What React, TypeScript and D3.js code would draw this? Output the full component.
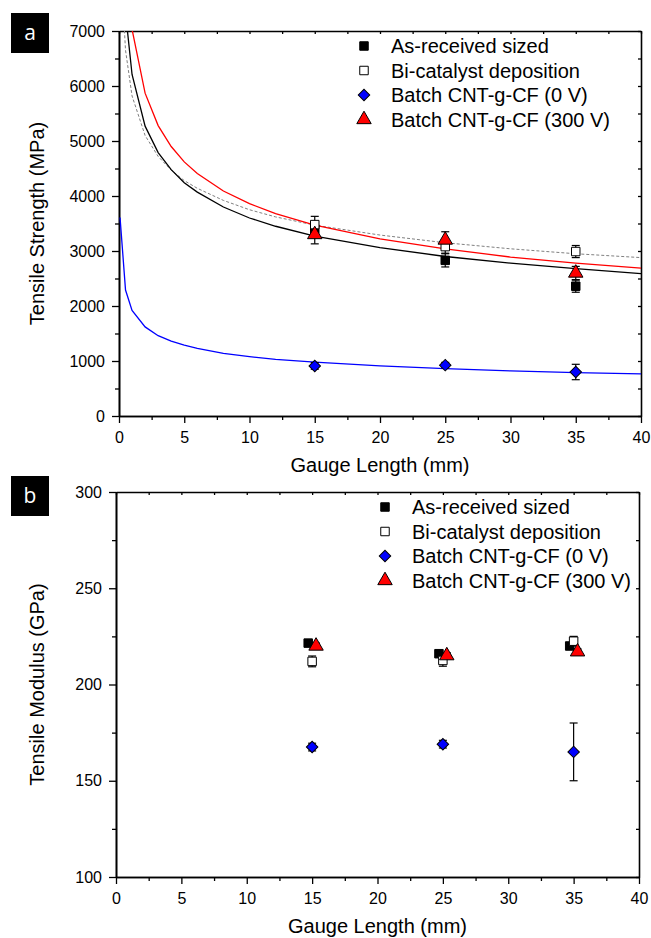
import * as d3 from 'd3';
import React, { useEffect, useRef } from 'react';

const W = 651;
const H = 938;
const FONT = 'Arial, "Liberation Sans", Helvetica, sans-serif';

// gauge lengths tested (mm)
const gaugeLengths = [15, 25, 35];
const xMajor = [0, 5, 10, 15, 20, 25, 30, 35, 40];
const xMinor = [2.5, 7.5, 12.5, 17.5, 22.5, 27.5, 32.5, 37.5];

const seriesNames = [
  'As-received sized',
  'Bi-catalyst deposition',
  'Batch CNT-g-CF (0 V)',
  'Batch CNT-g-CF (300 V)',
];

// panel a: tensile strength (MPa)
const strengthSized = [3400, 2830, 2360];
const strengthSizedErr = [100, 120, 110];
const strengthBiCat = [3480, 3080, 2990];
const strengthBiCatErr = [150, 120, 110];
const strength0V = [910, 925, 800];
const strength0VErr = [60, 50, 140];
const strength300V = [3300, 3200, 2600];
const strength300VErr = [170, 150, 120];

// fitted lines
const fitL = [0.2, 0.5, 1, 2, 3, 4, 5, 6, 8, 10, 12, 15, 20, 25, 30, 35, 40];
const fitSized = [9100, 7330, 6210, 5270, 4790, 4480, 4240, 4070, 3800, 3600, 3450, 3270, 3060, 2900, 2780, 2680, 2590];
const fitBiCat = [7920, 6650, 5820, 5100, 4720, 4470, 4280, 4140, 3920, 3750, 3620, 3470, 3290, 3150, 3040, 2950, 2880];
const fit300V = [10700, 8430, 7030, 5870, 5280, 4900, 4620, 4410, 4090, 3860, 3680, 3470, 3220, 3040, 2890, 2780, 2690];
const fit0VL = [0.08, 0.5, 1, 2, 3, 4, 5, 6, 8, 10, 12, 15, 20, 25, 30, 35, 40];
const fit0V = [3610, 2290, 1920, 1620, 1460, 1360, 1290, 1230, 1140, 1080, 1030, 980, 910, 860, 820, 790, 765];

const strengthMajor = [0, 1000, 2000, 3000, 4000, 5000, 6000, 7000];
const strengthMinor = [500, 1500, 2500, 3500, 4500, 5500, 6500];

// panel b: tensile modulus (GPa), points slightly offset in the original
const modSizedX = [14.7, 24.7, 34.7];
const modSized = [221.5, 216, 220];
const modSizedErr = [1.5, 1.5, 1.5];
const modBiCatX = [15, 25, 35];
const modBiCat = [212, 212.5, 222.5];
const modBiCatErr = [2.8, 3, 2.5];
const mod0VX = [15, 25, 35];
const mod0V = [167.5, 169, 165];
const mod0VErr = [2, 2, 15];
const mod300VX = [15.3, 25.3, 35.3];
const mod300V = [220, 215, 217];
const mod300VErr = [1.5, 1.5, 1.5];

const modMajor = [100, 150, 200, 250, 300];
const modMinor = [125, 175, 225, 275];

const markerStyles = [
  { shape: 'square', fill: '#000000' },
  { shape: 'square', fill: '#ffffff' },
  { shape: 'diamond', fill: '#0000ff' },
  { shape: 'triangle', fill: '#ff0000' },
];

const markerPath = (shape: string) => {
  if (shape === 'triangle') return d3.symbol(d3.symbolTriangle, 90)();
  return d3.symbol(d3.symbolSquare, shape === 'diamond' ? 66 : 72)();
};

const drawMarker = (g: any, shape: string, fill: string, cx: number, cy: number) => {
  g.append('path')
    .attr('d', markerPath(shape))
    .attr('transform', `translate(${cx},${cy})${shape === 'diamond' ? ' rotate(45)' : ''}`)
    .attr('fill', fill)
    .attr('stroke', '#000')
    .attr('stroke-width', 1);
};

const drawPanel = (svg: any, p: any) => {
  const x = d3.scaleLinear().domain([0, 40]).range(p.xRange);
  const y = d3.scaleLinear().domain(p.yDomain).range(p.yRange);
  const [x0, x1] = p.xRange;
  const [yb, yt] = p.yRange;
  const g = svg.append('g');

  const styleAxis = (sel: any) => {
    sel.selectAll('path.domain').attr('stroke-width', 1.6);
    sel.selectAll('.tick line').attr('stroke-width', 1.3);
    sel.selectAll('text').attr('font-size', 16).attr('font-family', FONT).attr('fill', '#000');
  };

  // bottom
  g.append('g').attr('transform', `translate(0,${yb})`)
    .call(d3.axisBottom(x).tickValues(xMinor).tickSize(4).tickSizeOuter(0).tickFormat(() => ''))
    .call(styleAxis);
  g.append('g').attr('transform', `translate(0,${yb})`)
    .call(d3.axisBottom(x).tickValues(xMajor).tickSize(7).tickSizeOuter(0).tickPadding(9).tickFormat(d3.format('d')))
    .call(styleAxis);
  // top (inward ticks)
  g.append('g').attr('transform', `translate(0,${yt})`)
    .call(d3.axisBottom(x).tickValues(xMajor.concat(xMinor)).tickSize(3).tickSizeOuter(0).tickFormat(() => ''))
    .call(styleAxis);
  // left
  g.append('g').attr('transform', `translate(${x0},0)`)
    .call(d3.axisLeft(y).tickValues(p.yMinor).tickSize(4).tickSizeOuter(0).tickFormat(() => ''))
    .call(styleAxis);
  g.append('g').attr('transform', `translate(${x0},0)`)
    .call(d3.axisLeft(y).tickValues(p.yMajor).tickSize(7).tickSizeOuter(0).tickPadding(7).tickFormat(d3.format('d')))
    .call(styleAxis);
  // right (inward ticks)
  g.append('g').attr('transform', `translate(${x1},0)`)
    .call(d3.axisLeft(y).tickValues(p.yMajor.concat(p.yMinor)).tickSize(3).tickSizeOuter(0).tickFormat(() => ''))
    .call(styleAxis);

  // fitted curves
  if (p.fits) {
    const clipId = `clip-${p.letter}`;
    svg.append('clipPath').attr('id', clipId)
      .append('rect').attr('x', x0).attr('y', yt).attr('width', x1 - x0).attr('height', yb - yt);
    const line = d3.line<[number, number]>().x((d) => x(d[0])).y((d) => y(d[1]));
    p.fits.forEach((f: any) => {
      g.append('path')
        .attr('d', line(d3.zip(f.L, f.v) as [number, number][]))
        .attr('clip-path', `url(#${clipId})`)
        .attr('fill', 'none')
        .attr('stroke', f.color)
        .attr('stroke-width', f.width)
        .attr('stroke-dasharray', f.dash || null);
    });
  }

  // error bars then markers
  p.series.forEach((s: any) => {
    s.x.forEach((xv: number, i: number) => {
      const cx = x(xv);
      const lo = y(s.y[i] - s.err[i]);
      const hi = y(s.y[i] + s.err[i]);
      g.append('line').attr('x1', cx).attr('x2', cx).attr('y1', lo).attr('y2', hi)
        .attr('stroke', '#000').attr('stroke-width', 1.2);
      [lo, hi].forEach((yy) => {
        g.append('line').attr('x1', cx - 4).attr('x2', cx + 4).attr('y1', yy).attr('y2', yy)
          .attr('stroke', '#000').attr('stroke-width', 1.2);
      });
    });
  });
  p.series.forEach((s: any) => {
    s.x.forEach((xv: number, i: number) => drawMarker(g, s.shape, s.fill, x(xv), y(s.y[i])));
  });

  // legend
  p.series.forEach((s: any, i: number) => {
    const ly = yt + 15 + i * 24.5;
    drawMarker(g, s.shape, s.fill, p.legendX, ly);
    g.append('text')
      .attr('x', p.legendX + 27)
      .attr('y', ly + 7)
      .attr('font-size', 20)
      .attr('font-family', FONT)
      .text(s.name);
  });

  // axis titles
  g.append('text')
    .attr('x', (x0 + x1) / 2)
    .attr('y', p.xTitleY)
    .attr('text-anchor', 'middle')
    .attr('font-size', 20)
    .attr('font-family', FONT)
    .text('Gauge Length (mm)');
  g.append('text')
    .attr('transform', `translate(44,${(yt + yb) / 2}) rotate(-90)`)
    .attr('text-anchor', 'middle')
    .attr('font-size', 20)
    .attr('font-family', FONT)
    .text(p.yTitle);

  // panel letter
  g.append('rect').attr('x', 11).attr('y', p.boxY).attr('width', 38).attr('height', 40).attr('fill', '#000');
  g.append('text')
    .attr('x', 30)
    .attr('y', p.boxY + 27)
    .attr('text-anchor', 'middle')
    .attr('fill', '#fff')
    .attr('font-size', 21)
    .attr('font-family', '"Open Sans", sans-serif')
    .text(p.letter);
};

const buildSeries = (xs: number[][], ys: number[][], errs: number[][]) =>
  seriesNames.map((name, i) => ({ name, x: xs[i], y: ys[i], err: errs[i], ...markerStyles[i] }));

const App = () => {
  const svgRef = useRef<SVGSVGElement>(null);

  useEffect(() => {
    const svg = d3.select(svgRef.current);
    svg.selectAll('*').remove();
    svg.append('rect').attr('width', W).attr('height', H).attr('fill', '#fff');

    drawPanel(svg, {
      letter: 'a',
      boxY: 13,
      xRange: [119, 641],
      yDomain: [0, 7000],
      yRange: [416, 31],
      yMajor: strengthMajor,
      yMinor: strengthMinor,
      xTitleY: 472,
      yTitle: 'Tensile Strength (MPa)',
      legendX: 364,
      series: buildSeries(
        [gaugeLengths, gaugeLengths, gaugeLengths, gaugeLengths],
        [strengthSized, strengthBiCat, strength0V, strength300V],
        [strengthSizedErr, strengthBiCatErr, strength0VErr, strength300VErr]
      ),
      fits: [
        { L: fitL, v: fitBiCat, color: '#808080', width: 1, dash: '3,2' },
        { L: fitL, v: fitSized, color: '#000000', width: 1.3 },
        { L: fitL, v: fit300V, color: '#ff0000', width: 1.3 },
        { L: fit0VL, v: fit0V, color: '#0000ff', width: 1.3 },
      ],
    });

    drawPanel(svg, {
      letter: 'b',
      boxY: 476,
      xRange: [116, 639],
      yDomain: [100, 300],
      yRange: [877, 492],
      yMajor: modMajor,
      yMinor: modMinor,
      xTitleY: 933,
      yTitle: 'Tensile Modulus (GPa)',
      legendX: 385,
      series: buildSeries(
        [modSizedX, modBiCatX, mod0VX, mod300VX],
        [modSized, modBiCat, mod0V, mod300V],
        [modSizedErr, modBiCatErr, mod0VErr, mod300VErr]
      ),
    });
  }, []);

  return (
    <svg
      ref={svgRef}
      width={W}
      height={H}
      style={{ position: 'absolute', left: 0, top: 0 }}
    />
  );
};

export default App;
